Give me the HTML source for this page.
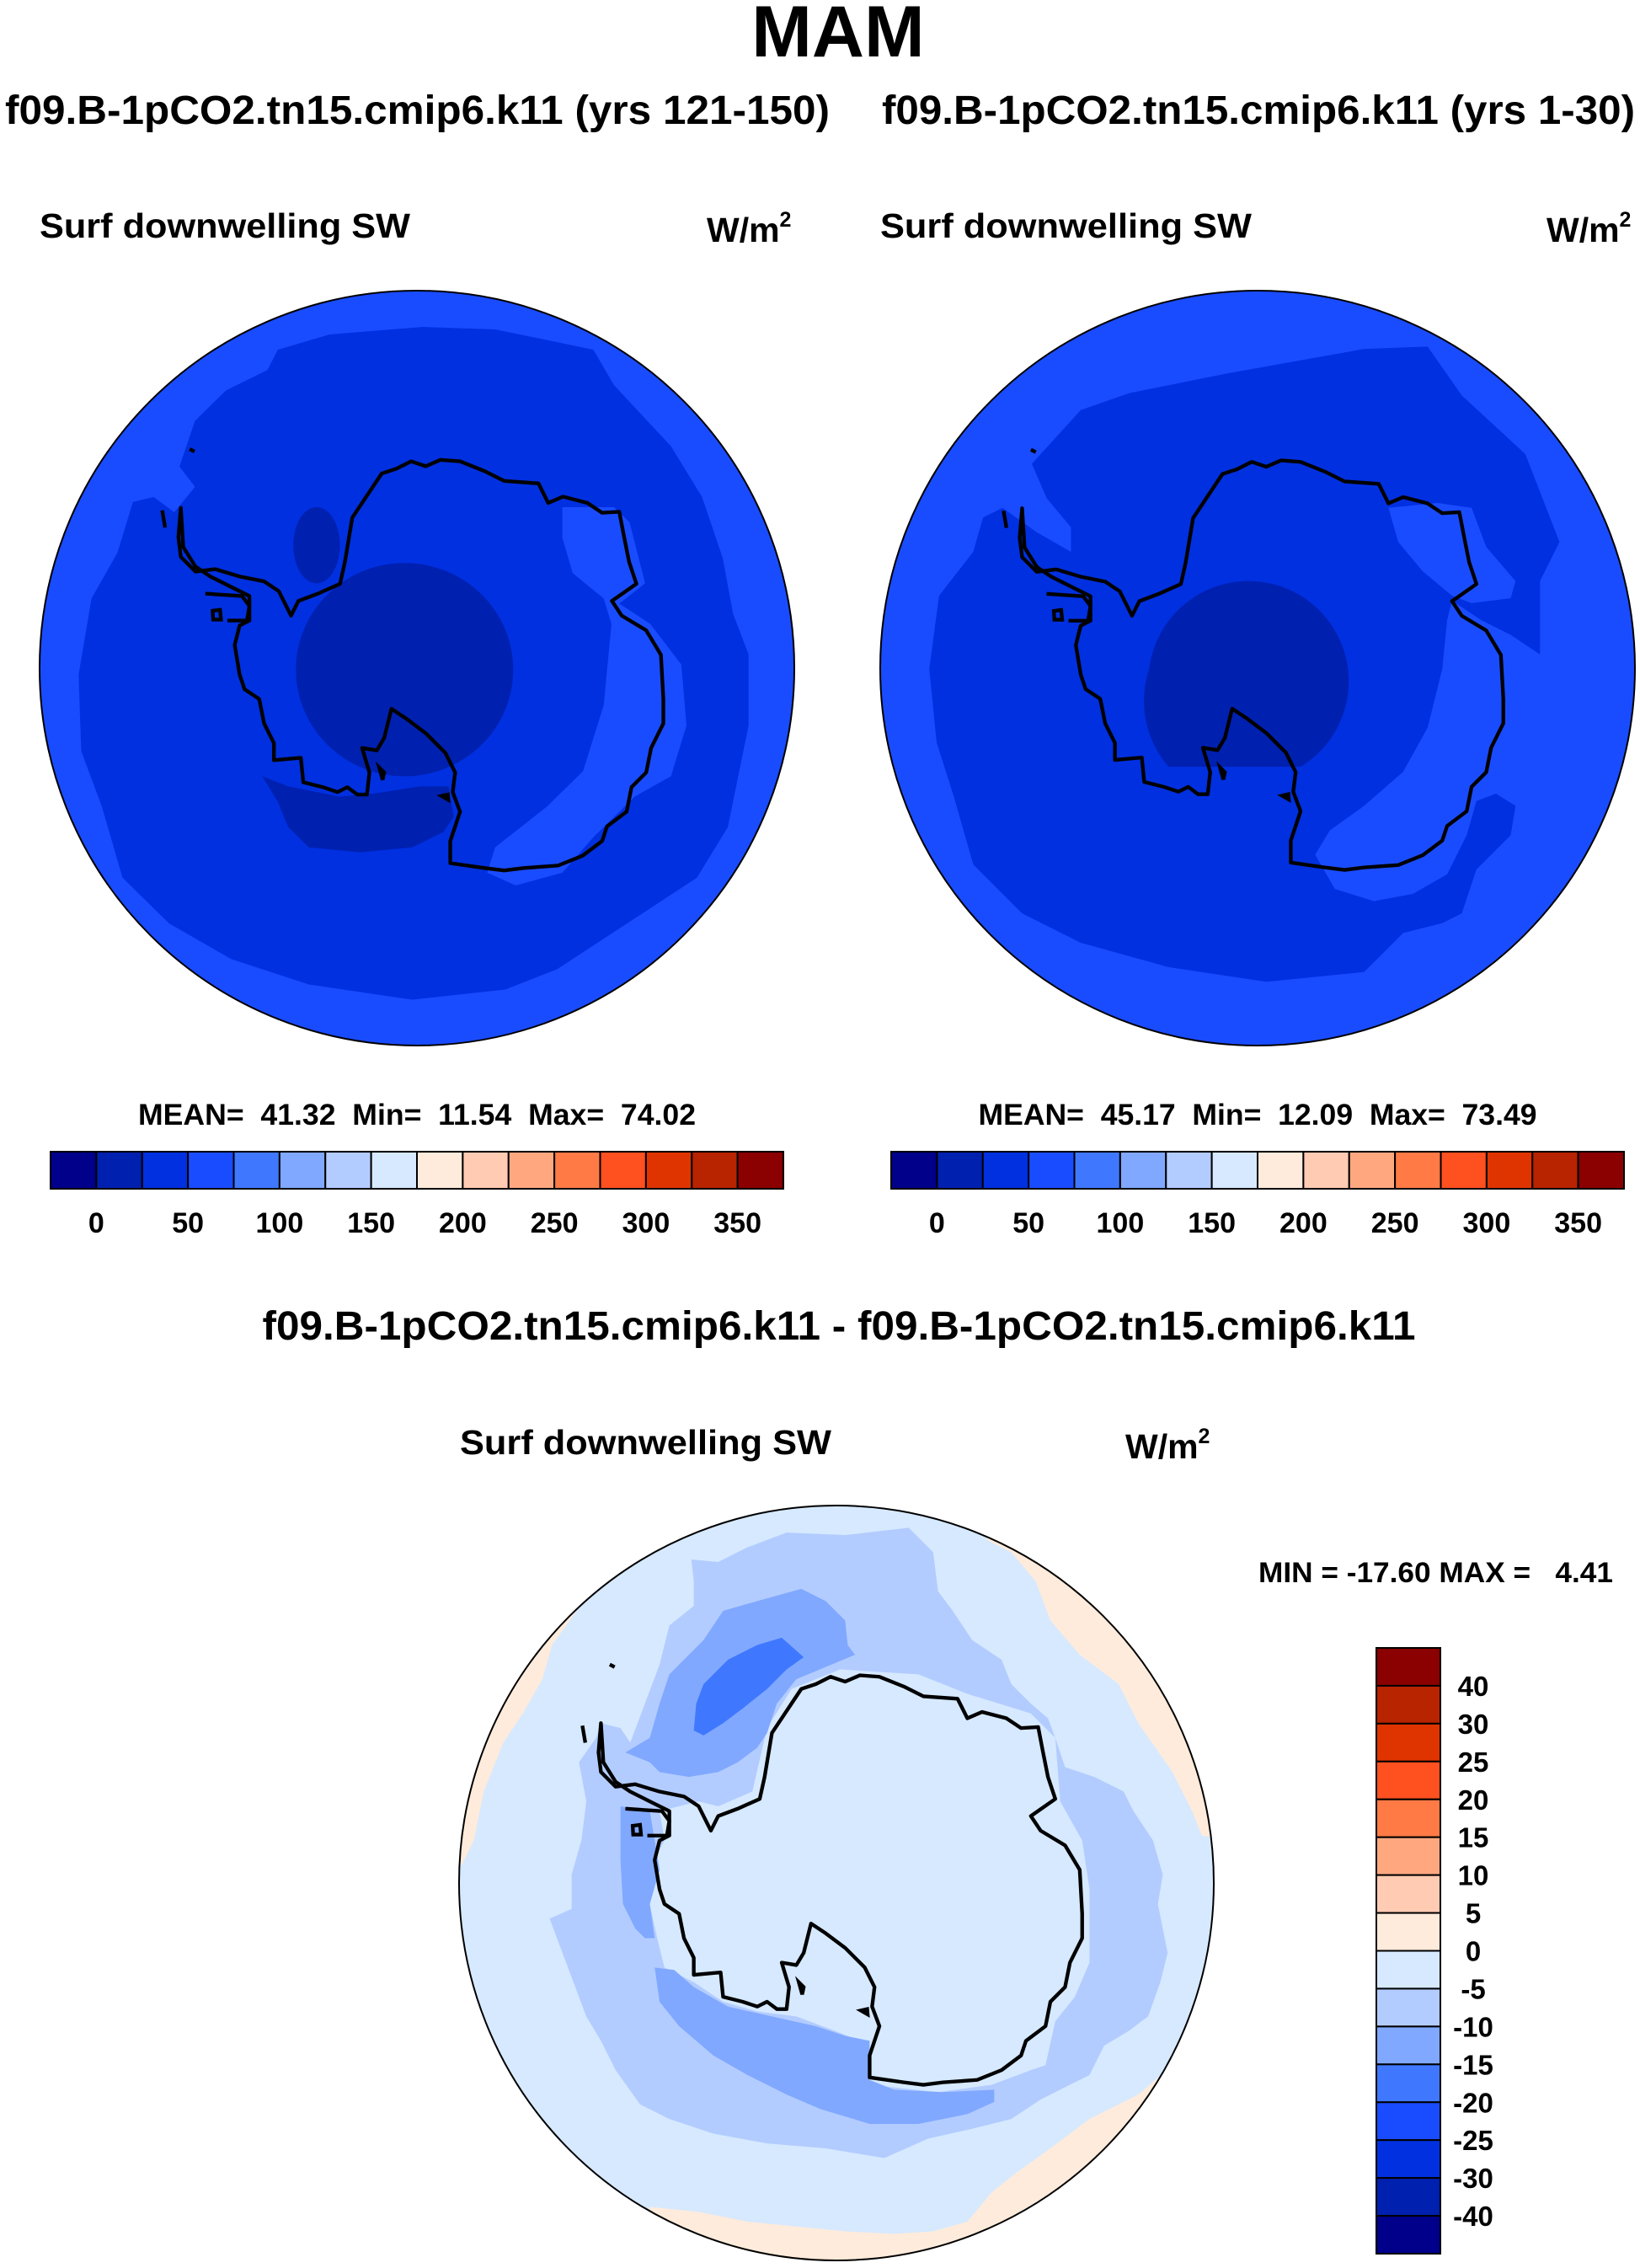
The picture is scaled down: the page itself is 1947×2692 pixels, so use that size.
<!DOCTYPE html>
<html><head><meta charset="utf-8"><style>
html,body{margin:0;padding:0;background:#fff}
svg{display:block}
text{font-family:"Liberation Sans",Arial,sans-serif;font-weight:bold;fill:#000}
.pre{white-space:pre}
</style></head>
<body>
<svg id="fig" width="1947" height="2692" viewBox="0 0 1947 2692" xmlns="http://www.w3.org/2000/svg">
<defs>
<clipPath id="cL"><circle cx="495" cy="793" r="448"/></clipPath>
<clipPath id="cR"><circle cx="1493" cy="793" r="448"/></clipPath>
<clipPath id="cB"><circle cx="993" cy="2235" r="448"/></clipPath>
<g id="coast">
<path fill="none" stroke="#000" stroke-width="7.5" stroke-linejoin="round" d="M300,460 L295,520 L300,560 L330,590 L370,585 L420,600 L470,610 L500,630 L525,680 L540,650 L580,635 L625,615 L635,570 L650,480 L690,420 L710,390 L740,380 L770,365 L800,375 L830,362 L870,365 L920,385 L960,405 L1030,410 L1050,450 L1080,437 L1130,450 L1160,470 L1195,468 L1205,520 L1215,570 L1230,615 L1180,650 L1200,680 L1250,710 L1280,760 L1285,850 L1285,900 L1260,950 L1250,1000 L1220,1030 L1210,1080 L1170,1110 L1160,1140 L1120,1170 L1070,1190 L1000,1195 L960,1200 L920,1195 L850,1185 L850,1140 L870,1080 L855,1040 L860,1000 L840,960 L800,920 L760,890 L730,870 L715,930 L700,955 L670,950 L685,1000 L680,1045 L660,1045 L640,1030 L620,1040 L590,1030 L550,1020 L545,970 L490,975 L490,940 L470,900 L460,850 L430,830 L420,800 L410,740 L420,700 L440,690 L440,640 L400,620 L360,600 L330,580 L305,540 Z"/>
<path fill="none" stroke="#000" stroke-width="7.5" d="M350,635 L425,640 L440,660 L435,690 L395,690 M365,670 L380,668 L382,688 L366,688 Z M262,465 L268,500 M318,340 L328,345 M705,990 L715,1000 L712,1015 Z M832,1048 L845,1045 L846,1056 Z"/>
</g>
</defs>

<text x="995" y="67" font-size="86" text-anchor="middle">MAM</text>
<text x="6" y="147" font-size="48" textLength="979" lengthAdjust="spacingAndGlyphs">f09.B-1pCO2.tn15.cmip6.k11 (yrs 121-150)</text>
<text x="1047" y="147" font-size="48" textLength="894" lengthAdjust="spacingAndGlyphs">f09.B-1pCO2.tn15.cmip6.k11 (yrs 1-30)</text>

<text x="47" y="282" font-size="41" textLength="440" lengthAdjust="spacingAndGlyphs">Surf downwelling SW</text>
<text x="839" y="287" font-size="41">W/m<tspan font-size="25" dy="-18">2</tspan></text>
<text x="1045" y="282" font-size="41" textLength="441" lengthAdjust="spacingAndGlyphs">Surf downwelling SW</text>
<text x="1836" y="287" font-size="41">W/m<tspan font-size="25" dy="-18">2</tspan></text>

<!-- LEFT MAP -->
<g clip-path="url(#cL)">
<circle cx="495" cy="793" r="448" fill="#1a4cff"/>
<g transform="translate(495,793) scale(0.6142,0.6027) translate(-809,-787)">
<polygon fill="#0030e0" points="350,390 380,300 440,240 520,200 540,160 640,130 820,115 960,120 1080,145 1150,160 1190,230 1300,350 1360,450 1400,570 1420,680 1450,760 1450,900 1430,1000 1410,1100 1350,1200 1200,1300 1080,1380 980,1420 800,1440 600,1410 450,1360 330,1290 240,1200 200,1060 160,950 155,800 180,650 230,560 260,460 300,450 340,480 380,430"/>
<polygon fill="#1a4cff" points="1090,470 1190,470 1220,500 1250,620 1200,660 1260,700 1320,780 1330,900 1300,1000 1230,1040 1150,1120 1090,1190 1000,1215 945,1190 960,1140 1060,1060 1130,990 1170,860 1185,700 1170,650 1110,600 1090,530"/>
<circle fill="#0020b0" cx="785" cy="790" r="210"/>
<polygon fill="#0020b0" points="510,1000 560,1020 660,1040 720,1035 815,1020 870,1020 880,1080 860,1110 800,1140 700,1150 600,1140 560,1100 540,1050"/>
<ellipse fill="#0020b0" cx="615" cy="545" rx="45" ry="75"/>
</g>
<g transform="translate(495,793) scale(0.5816) translate(-782,-787)"><use href="#coast"/></g>
</g>
<circle cx="495" cy="793" r="448" fill="none" stroke="#000" stroke-width="2"/>

<!-- RIGHT MAP -->
<g clip-path="url(#cR)">
<circle cx="1493" cy="793" r="448" fill="#1a4cff"/>
<g transform="translate(1493,793) scale(0.58) translate(-782,-798)">
<polygon fill="#0030e0" points="320,380 420,270 520,235 720,195 1000,145 1130,140 1200,240 1330,360 1400,540 1360,620 1360,770 1300,730 1240,700 1180,660 1170,700 1160,800 1130,920 1080,1010 1000,1080 930,1130 900,1180 940,1250 1020,1275 1100,1260 1170,1220 1210,1140 1230,1070 1270,1055 1310,1080 1300,1140 1230,1210 1200,1300 1160,1320 1080,1340 1000,1420 800,1440 600,1410 420,1360 300,1300 200,1200 160,1060 125,950 110,800 130,650 200,560 220,490 260,470 330,520 400,560 400,510 350,450"/>
<polygon fill="#1a4cff" points="1050,470 1150,460 1220,470 1250,550 1310,620 1300,655 1220,665 1180,650 1120,600 1070,540"/>
<path fill="#0020b0" d="M560,800 A205,205 0 1 1 870,1000 L600,1000 A205,205 0 0 1 560,800 Z"/>
</g>
<g transform="translate(1493,793) scale(0.58) translate(-782,-787)"><use href="#coast"/></g>
</g>
<circle cx="1493" cy="793" r="448" fill="none" stroke="#000" stroke-width="2"/>

<text class="pre" x="495" y="1335" font-size="35" text-anchor="middle" textLength="662" lengthAdjust="spacingAndGlyphs">MEAN=  41.32  Min=  11.54  Max=  74.02</text>
<text class="pre" x="1493" y="1335" font-size="35" text-anchor="middle" textLength="663" lengthAdjust="spacingAndGlyphs">MEAN=  45.17  Min=  12.09  Max=  73.49</text>
<g id="cbL"></g>
<g id="cbR"></g>

<text x="996" y="1590" font-size="48" text-anchor="middle" textLength="1369" lengthAdjust="spacingAndGlyphs">f09.B-1pCO2.tn15.cmip6.k11 - f09.B-1pCO2.tn15.cmip6.k11</text>
<text x="546" y="1726" font-size="41" textLength="441" lengthAdjust="spacingAndGlyphs">Surf downwelling SW</text>
<text x="1336" y="1731" font-size="41">W/m<tspan font-size="25" dy="-18">2</tspan></text>
<text class="pre" x="1494" y="1878" font-size="34" textLength="421" lengthAdjust="spacingAndGlyphs">MIN = -17.60 MAX =   4.41</text>

<!-- DIFFERENCE MAP -->
<g clip-path="url(#cB)">
<circle cx="993" cy="2235" r="448" fill="#d6e9ff"/>
<g transform="translate(993,2235) scale(0.58) translate(-782,-787)">
<polygon fill="#ffebdb" points="1090,85 1140,110 1190,170 1220,250 1280,320 1360,380 1400,460 1470,560 1510,640 1530,690 1600,700 1600,0 1090,0"/>
<polygon fill="#ffebdb" points="250,230 200,300 180,370 140,440 100,500 60,600 40,700 15,750 0,750 0,0 250,0"/>
<polygon fill="#ffebdb" points="400,1450 500,1460 600,1480 700,1490 800,1500 900,1505 980,1500 1050,1480 1100,1420 1150,1380 1220,1330 1300,1270 1400,1220 1470,1160 1600,1100 1600,1600 400,1600"/>
<polygon fill="#b3ccff" points="485,125 540,130 600,100 680,70 800,75 930,60 980,110 990,190 1020,230 1060,290 1120,330 1140,380 1180,420 1215,450 1230,490 1250,550 1310,570 1370,600 1390,640 1430,700 1450,770 1440,830 1460,930 1445,990 1420,1060 1380,1090 1330,1120 1300,1180 1260,1200 1200,1230 1140,1270 1060,1290 970,1310 880,1350 760,1330 640,1320 530,1300 440,1270 380,1240 330,1170 300,1110 270,1060 240,980 195,860 240,840 240,770 260,700 270,620 255,540 290,490 300,460 340,470 360,500 390,420 420,340 440,260 490,220 490,170"/>
<polygon fill="#d6e9ff" points="640,470 690,390 790,350 950,360 1050,400 1180,440 1230,490 1240,620 1285,700 1300,800 1300,950 1270,1020 1230,1070 1210,1160 1180,1170 1100,1200 990,1215 850,1200 830,1110 780,1090 700,1060 620,1050 550,1030 490,990 430,960 415,900 400,830 410,740 430,700 420,640 500,620 540,630 610,600"/>
<polygon fill="#80a8ff" points="350,520 400,490 420,420 440,360 510,290 550,230 620,210 710,185 760,210 800,250 805,300 820,320 700,370 660,420 640,480 620,510 580,540 540,560 480,570 420,560 400,540"/>
<polygon fill="#80a8ff" points="340,630 400,640 410,700 420,760 400,830 410,900 390,900 370,880 345,830 340,740"/>
<polygon fill="#80a8ff" points="410,960 450,965 490,1000 560,1040 650,1060 740,1080 800,1100 850,1110 850,1190 900,1210 1000,1215 1105,1210 1105,1235 1050,1260 950,1280 850,1280 750,1250 680,1220 600,1180 530,1140 460,1080 420,1030"/>
<polygon fill="#3f78ff" points="490,475 495,420 510,380 560,330 620,300 670,285 715,325 680,350 640,390 590,430 550,460 510,485"/>
<use href="#coast"/>
</g>
</g>
<circle cx="993" cy="2235" r="448" fill="none" stroke="#000" stroke-width="2"/>

<g id="cbB"></g>

<script>
const NS = "http://www.w3.org/2000/svg";
const absColors = ["#00008b","#0020b0","#0030e0","#1a4cff","#3f78ff","#80a8ff","#b3ccff","#d6e9ff","#ffebdb","#ffcbb3","#ffa880","#ff7a45","#ff5020","#e03400","#b82300","#8b0000"];
const absTickLabels = ["0","50","100","150","200","250","300","350"];
const absTickBoundaries = [1,3,5,7,9,11,13,15];
const diffColors = ["#8b0000","#b82300","#e03400","#ff5020","#ff7a45","#ffa880","#ffcbb3","#ffebdb","#d6e9ff","#b3ccff","#80a8ff","#3f78ff","#1a4cff","#0030e0","#0020b0","#00008b"];
const diffTickLabels = ["40","30","25","20","15","10","5","0","-5","-10","-15","-20","-25","-30","-40"];

function hbar(gid, x0, y0, w, h, side) {
  const g = document.getElementById(gid);
  const bw = w / absColors.length;
  absColors.forEach((c, i) => {
    const r = document.createElementNS(NS, "rect");
    r.setAttribute("x", x0 + i * bw); r.setAttribute("y", y0);
    r.setAttribute("width", bw); r.setAttribute("height", h);
    r.setAttribute("fill", c); r.setAttribute("stroke", "#000"); r.setAttribute("stroke-width", "2");
    
    
    g.appendChild(r);
  });
  absTickLabels.forEach((t, i) => {
    const tx = document.createElementNS(NS, "text");
    tx.setAttribute("x", x0 + absTickBoundaries[i] * bw); tx.setAttribute("y", y0 + h + 52);
    tx.setAttribute("font-size", "34"); tx.setAttribute("text-anchor", "middle");
    tx.textContent = t;
    
    
    g.appendChild(tx);
  });
}
hbar("cbL", 60, 1367, 870, 44, "left");
hbar("cbR", 1058, 1367, 870, 44, "right");

(function () {
  const g = document.getElementById("cbB");
  const x0 = 1634, y0 = 1956, w = 76, h = 719;
  const bh = h / diffColors.length;
  diffColors.forEach((c, i) => {
    const r = document.createElementNS(NS, "rect");
    r.setAttribute("x", x0); r.setAttribute("y", y0 + i * bh);
    r.setAttribute("width", w); r.setAttribute("height", bh);
    r.setAttribute("fill", c); r.setAttribute("stroke", "#000"); r.setAttribute("stroke-width", "2");
    
    
    g.appendChild(r);
  });
  diffTickLabels.forEach((t, i) => {
    const tx = document.createElementNS(NS, "text");
    tx.setAttribute("x", 1749); tx.setAttribute("y", y0 + (i + 1) * bh + 12);
    tx.setAttribute("font-size", "33"); tx.setAttribute("text-anchor", "middle");
    tx.textContent = t;
    
    
    g.appendChild(tx);
  });
})();
</script>
</svg>
</body></html>
